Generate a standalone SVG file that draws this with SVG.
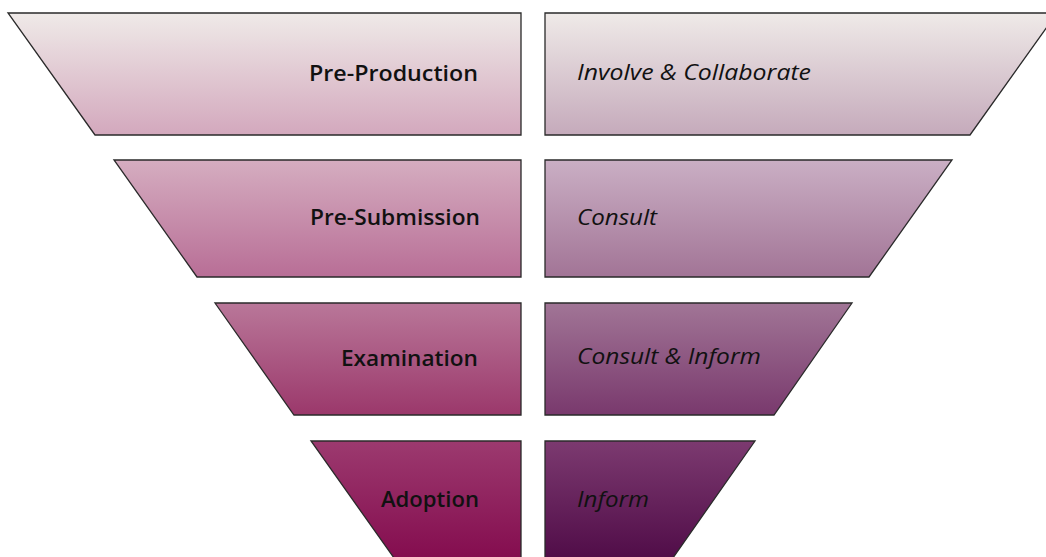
<svg xmlns="http://www.w3.org/2000/svg" width="1046" height="557" viewBox="0 0 1046 557">
<defs>
<linearGradient id="gL1" x1="0" y1="0" x2="0" y2="1"><stop offset="0" stop-color="#EFEAE8"/><stop offset="1" stop-color="#D3A8BD"/></linearGradient>
<linearGradient id="gR1" x1="0" y1="0" x2="0" y2="1"><stop offset="0" stop-color="#EFEAE8"/><stop offset="1" stop-color="#C5AABB"/></linearGradient>
<linearGradient id="gL2" x1="0" y1="0" x2="0" y2="1"><stop offset="0" stop-color="#D5ADC0"/><stop offset="1" stop-color="#B86E96"/></linearGradient>
<linearGradient id="gR2" x1="0" y1="0" x2="0" y2="1"><stop offset="0" stop-color="#CAAFC4"/><stop offset="1" stop-color="#A27496"/></linearGradient>
<linearGradient id="gL3" x1="0" y1="0" x2="0" y2="1"><stop offset="0" stop-color="#B97799"/><stop offset="1" stop-color="#9B386B"/></linearGradient>
<linearGradient id="gR3" x1="0" y1="0" x2="0" y2="1"><stop offset="0" stop-color="#A17596"/><stop offset="1" stop-color="#79396D"/></linearGradient>
<linearGradient id="gL4" x1="0" y1="0" x2="0" y2="1"><stop offset="0" stop-color="#9C3A6F"/><stop offset="1" stop-color="#830A4D"/></linearGradient>
<linearGradient id="gR4" x1="0" y1="0" x2="0" y2="1"><stop offset="0" stop-color="#7C3A70"/><stop offset="1" stop-color="#4E0A46"/></linearGradient>
</defs>
<style>
.shape{stroke:#2a2a2a;stroke-width:1.3;stroke-linejoin:miter}
.stage{font-family:"Open Sans","Noto Sans","DejaVu Sans",sans-serif;font-weight:600;font-size:22px;fill:#111;text-anchor:end}
.level{font-family:"Open Sans","Noto Sans","DejaVu Sans",sans-serif;font-style:italic;font-size:22px;fill:#111}
</style>
<rect width="1046" height="557" fill="#ffffff"/>
<g id="pre-production">
<polygon class="shape" fill="url(#gL1)" points="8,13 521,13 521,135 95,135"/>
<text class="stage" x="478" y="81" textLength="169" lengthAdjust="spacingAndGlyphs">Pre-Production</text>
</g>
<g id="involve-collaborate">
<polygon class="shape" fill="url(#gR1)" points="545,13 1057,13 970,135 545,135"/>
<text class="level" x="577" y="80" textLength="234" lengthAdjust="spacingAndGlyphs">Involve &amp; Collaborate</text>
</g>
<g id="pre-submission">
<polygon class="shape" fill="url(#gL2)" points="114,160 521,160 521,277 197,277"/>
<text class="stage" x="480" y="225" textLength="170" lengthAdjust="spacingAndGlyphs">Pre-Submission</text>
</g>
<g id="consult">
<polygon class="shape" fill="url(#gR2)" points="545,160 952,160 869,277 545,277"/>
<text class="level" x="577" y="225" textLength="80" lengthAdjust="spacingAndGlyphs">Consult</text>
</g>
<g id="examination">
<polygon class="shape" fill="url(#gL3)" points="215,303 521,303 521,415 294,415"/>
<text class="stage" x="478" y="366" textLength="137" lengthAdjust="spacingAndGlyphs">Examination</text>
</g>
<g id="consult-inform">
<polygon class="shape" fill="url(#gR3)" points="545,303 852,303 774,415 545,415"/>
<text class="level" x="577" y="364" textLength="184" lengthAdjust="spacingAndGlyphs">Consult &amp; Inform</text>
</g>
<g id="adoption">
<polygon class="shape" fill="url(#gL4)" points="311,441 521,441 521,565 399,565"/>
<text class="stage" x="479" y="507" textLength="98" lengthAdjust="spacingAndGlyphs">Adoption</text>
</g>
<g id="inform">
<polygon class="shape" fill="url(#gR4)" points="545,441 755,441 668,565 545,565"/>
<text class="level" x="577" y="507" textLength="72" lengthAdjust="spacingAndGlyphs">Inform</text>
</g>
<g id="connectors"/>
</svg>
